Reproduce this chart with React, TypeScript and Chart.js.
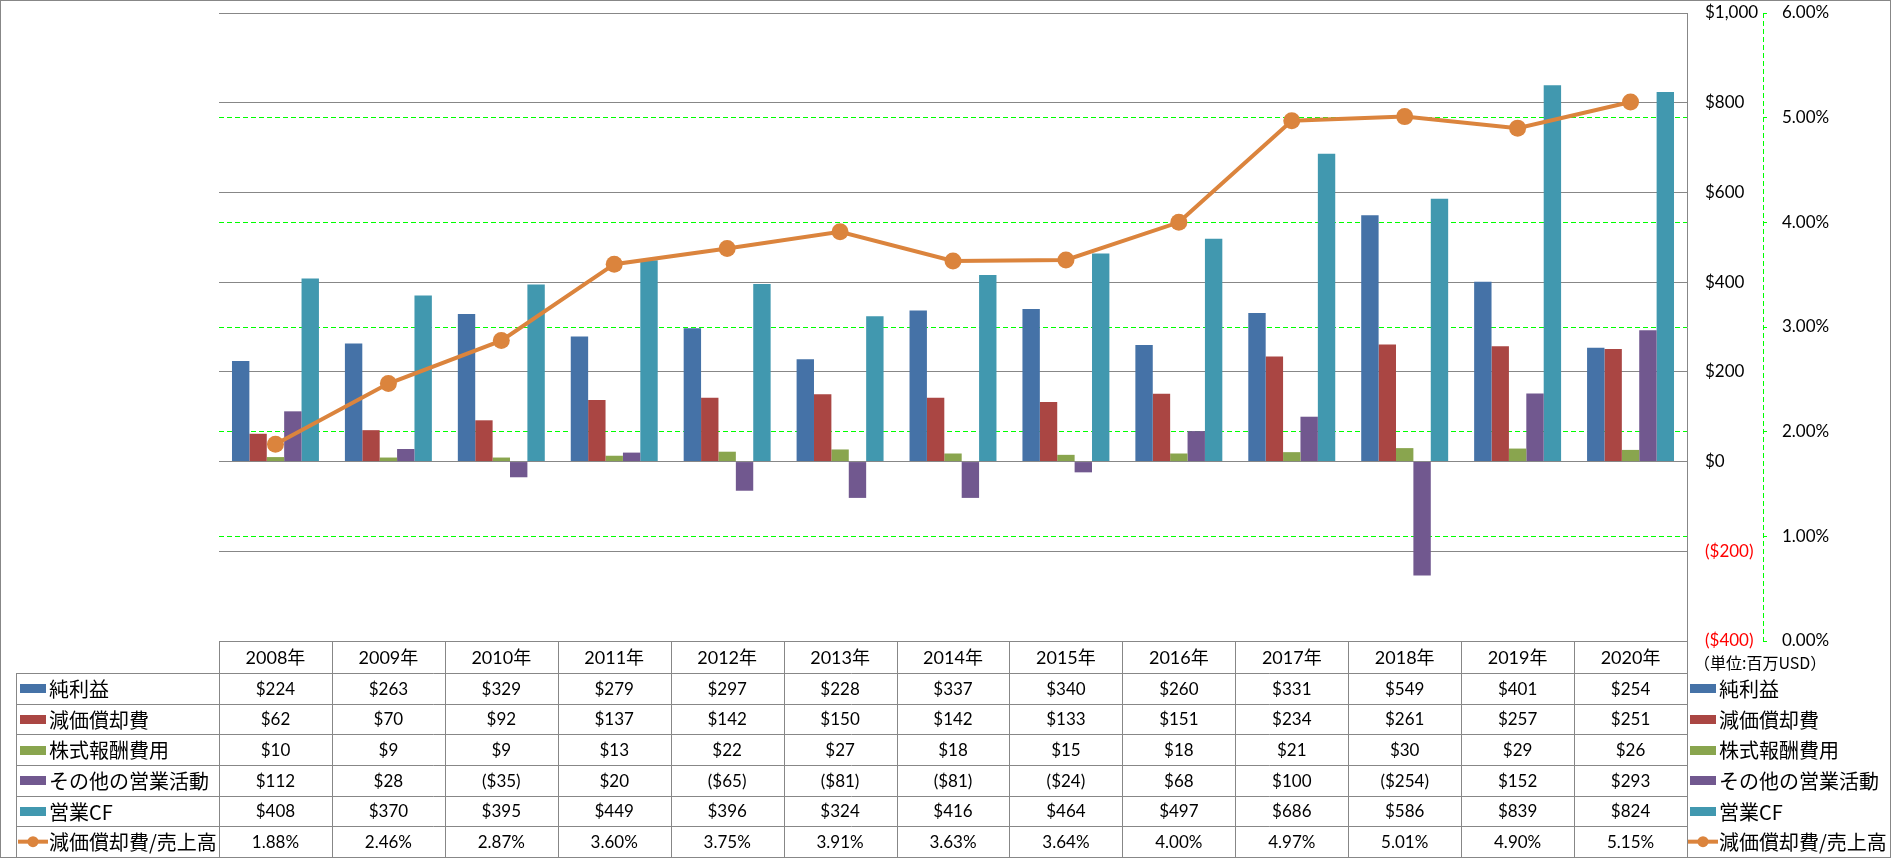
import React, { useEffect, useRef } from "react";
import { Chart, registerables } from "chart.js";
Chart.register(...registerables);

const years = ["2008年", "2009年", "2010年", "2011年", "2012年", "2013年", "2014年", "2015年", "2016年", "2017年", "2018年", "2019年", "2020年"];
const netIncome = [224, 263, 329, 279, 297, 228, 337, 340, 260, 331, 549, 401, 254];
const depreciation = [62, 70, 92, 137, 142, 150, 142, 133, 151, 234, 261, 257, 251];
const stockComp = [10, 9, 9, 13, 22, 27, 18, 15, 18, 21, 30, 29, 26];
const otherOps = [112, 28, -35, 20, -65, -81, -81, -24, 68, 100, -254, 152, 293];
const operatingCF = [408, 370, 395, 449, 396, 324, 416, 464, 497, 686, 586, 839, 824];
const depRatio = [1.88, 2.46, 2.87, 3.6, 3.75, 3.91, 3.63, 3.64, 4.0, 4.97, 5.01, 4.9, 5.15];

const seriesNames = ["純利益", "減価償却費", "株式報酬費用", "その他の営業活動", "営業CF", "減価償却費/売上高"];
const barColors = ["#4572A7", "#AA4643", "#89A54E", "#71588F", "#4198AF"];
const lineColor = "#DB843D";
const unitLabel = "（単位:百万USD）";

const leftTicks = [-400, -200, 0, 200, 400, 600, 800, 1000];
const rightTicks = [0, 1, 2, 3, 4, 5, 6];

const NUM_FONT = '17px Lato, "Noto Sans CJK JP", sans-serif';
const YEAR_FONT = '18px Lato, "Noto Sans CJK JP", sans-serif';
const LABEL_FONT = '20px "Noto Sans CJK JP", sans-serif';
const GRID = "#878787";

const fmtMoney = (v: number) =>
  v < 0 ? `($${Math.abs(v).toLocaleString("en-US")})` : `$${v.toLocaleString("en-US")}`;
const fmtPct = (v: number) => `${v.toFixed(2)}%`;

const tablePlugin = {
  id: "dataTable",
  afterDraw(chart: any) {
    const ctx = chart.ctx as CanvasRenderingContext2D;
    const area = chart.chartArea;
    const xs = chart.scales.x;
    const y1 = chart.scales.y1;
    const px = (v: number) => Math.round(v) + 0.5;
    const n = years.length;
    const colW = (area.right - area.left) / n;
    const tableLeft = 16;
    const headerTop = area.bottom;
    const headerBottom = headerTop + 32;
    const tableBottom = 857;
    const rowH = (tableBottom - headerBottom) / 6;

    ctx.save();
    // green dashed secondary axis line
    ctx.strokeStyle = "#00FF00";
    ctx.lineWidth = 1;
    ctx.setLineDash([5, 3]);
    ctx.beginPath();
    ctx.moveTo(px(y1.left), area.top);
    ctx.lineTo(px(y1.left), area.bottom);
    ctx.stroke();
    ctx.setLineDash([]);

    // table grid
    ctx.strokeStyle = GRID;
    ctx.beginPath();
    ctx.moveTo(area.left, px(headerTop));
    ctx.lineTo(area.right, px(headerTop));
    for (let r = 0; r <= 6; r++) {
      const y = px(headerBottom + r * rowH);
      ctx.moveTo(tableLeft, y);
      ctx.lineTo(area.right, y);
    }
    ctx.moveTo(px(tableLeft), px(headerBottom));
    ctx.lineTo(px(tableLeft), tableBottom + 1);
    for (let i = 0; i <= n; i++) {
      const xx = px(area.left + i * colW);
      ctx.moveTo(xx, px(headerTop));
      ctx.lineTo(xx, tableBottom + 1);
    }
    ctx.stroke();

    // outer border
    ctx.strokeRect(0.5, 0.5, 1890, 857);

    // header
    ctx.fillStyle = "#000";
    ctx.textAlign = "center";
    ctx.textBaseline = "middle";
    ctx.font = YEAR_FONT;
    for (let i = 0; i < n; i++) {
      ctx.fillText(years[i], xs.getPixelForValue(i), headerTop + 17);
    }
    // unit label
    ctx.textAlign = "left";
    ctx.font = '16px "Noto Sans CJK JP", sans-serif';
    ctx.fillText(unitLabel, 1694, headerTop + 22);

    const rows = [netIncome, depreciation, stockComp, otherOps, operatingCF];
    for (let r = 0; r < 6; r++) {
      const cy = headerBottom + r * rowH + rowH / 2;
      ctx.font = NUM_FONT;
      ctx.textAlign = "center";
      ctx.fillStyle = "#000";
      for (let i = 0; i < n; i++) {
        const txt = r < 5 ? fmtMoney(rows[r][i]) : fmtPct(depRatio[i]);
        ctx.fillText(txt, xs.getPixelForValue(i), cy + 1);
      }
      // legend keys both sides
      for (const kx of [20, area.right + 3]) {
        if (r < 5) {
          ctx.fillStyle = barColors[r];
          ctx.fillRect(kx, Math.round(cy - 4), 26, 9);
        } else {
          ctx.strokeStyle = lineColor;
          ctx.lineWidth = 4;
          ctx.beginPath();
          ctx.moveTo(kx - 2, cy);
          ctx.lineTo(kx + 28, cy);
          ctx.stroke();
          ctx.fillStyle = lineColor;
          ctx.beginPath();
          ctx.arc(kx + 13, cy, 5.5, 0, Math.PI * 2);
          ctx.fill();
        }
        ctx.fillStyle = "#000";
        ctx.font = LABEL_FONT;
        ctx.textAlign = "left";
        ctx.fillText(seriesNames[r], kx + 29, cy + 1);
      }
    }
    ctx.restore();
  },
};

export default function App() {
  const ref = useRef<HTMLCanvasElement | null>(null);
  useEffect(() => {
    if (!ref.current) return;
    const barSeries = [netIncome, depreciation, stockComp, otherOps, operatingCF];
    const chart = new Chart(ref.current, {
      type: "bar",
      data: {
        labels: years,
        datasets: [
          {
            type: "line",
            label: seriesNames[5],
            data: depRatio,
            yAxisID: "y1",
            borderColor: lineColor,
            backgroundColor: lineColor,
            borderWidth: 4,
            pointRadius: 8.5,
            pointBorderWidth: 0,
            pointBackgroundColor: lineColor,
            tension: 0,
            order: 0,
          } as any,
          ...barSeries.map((d, i) => ({
            type: "bar" as const,
            label: seriesNames[i],
            data: d,
            yAxisID: "y",
            backgroundColor: barColors[i],
            borderWidth: 0,
            categoryPercentage: 0.77,
            barPercentage: 1.0,
            order: 1,
          })),
        ],
      },
      options: {
        responsive: false,
        animation: false,
        devicePixelRatio: 1,
        layout: { padding: { left: 219, top: 13, bottom: 217, right: 0 } },
        plugins: { legend: { display: false }, tooltip: { enabled: false } },
        scales: {
          x: { type: "category", display: false, offset: true },
          y: {
            position: "right",
            weight: 0,
            min: -400,
            max: 1000,
            afterBuildTicks: (s: any) => {
              s.ticks = leftTicks.map((v) => ({ value: v }));
            },
            afterFit: (s: any) => {
              s.width = 76;
              s.paddingTop = 0;
              s.paddingBottom = 0;
            },
            grid: { color: GRID, lineWidth: 1, drawTicks: false },
            border: { display: true, color: GRID, width: 1 },
            ticks: {
              padding: 18,
              font: { family: 'Lato, "Noto Sans CJK JP", sans-serif', size: 17 },
              color: (c: any) => (c.tick && c.tick.value < 0 ? "#FF0000" : "#000000"),
              callback: (v: any) => fmtMoney(Number(v)),
            },
          },
          y1: {
            position: "right",
            weight: 1,
            min: 0,
            max: 6,
            afterBuildTicks: (s: any) => {
              s.ticks = rightTicks.map((v) => ({ value: v }));
            },
            afterFit: (s: any) => {
              s.width = 130;
              s.paddingTop = 0;
              s.paddingBottom = 0;
            },
            grid: {
              drawOnChartArea: true,
              color: (c: any) =>
                c.tick && (c.tick.value === 0 || c.tick.value === 6) ? "rgba(0,0,0,0)" : "#00FF00",
              tickColor: "#00FF00",
              tickLength: 4,
              drawTicks: true,
              lineWidth: 1,
            },
            border: { display: false, dash: [5, 3] },
            ticks: {
              padding: 15,
              font: { family: 'Lato, "Noto Sans CJK JP", sans-serif', size: 17 },
              color: "#000000",
              callback: (v: any) => fmtPct(Number(v)),
            },
          },
        },
      },
      plugins: [tablePlugin],
    });
    return () => chart.destroy();
  }, []);
  return (
    <div style={{ position: "fixed", left: 0, top: 0, width: 1893, height: 858, background: "#fff" }}>
      <canvas ref={ref} width={1893} height={858} style={{ display: "block" }} />
    </div>
  );
}
